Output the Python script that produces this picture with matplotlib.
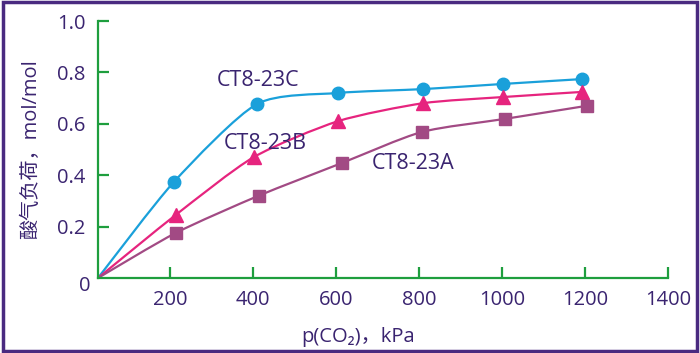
import numpy as np
import matplotlib
matplotlib.use("Agg")
import matplotlib.pyplot as plt
from matplotlib.path import Path
from matplotlib.patches import PathPatch, Rectangle

# Data
pressure_C = [27, 210, 410, 605, 810, 1002, 1193]
load_C = [0.0, 0.374, 0.677, 0.72, 0.735, 0.755, 0.774]
pressure_B = [27, 214, 402, 605, 810, 1002, 1193]
load_B = [0.0, 0.245, 0.47, 0.61, 0.68, 0.704, 0.724]
pressure_A = [27, 214, 414, 614, 807, 1007, 1205]
load_A = [0.0, 0.175, 0.32, 0.447, 0.568, 0.619, 0.67]
series_names = ["CT8-23C", "CT8-23B", "CT8-23A"]
xticks = [200, 400, 600, 800, 1000, 1200, 1400]
yticks = [0.2, 0.4, 0.6, 0.8, 1.0]

TXT = "#3a2470"
GREEN = "#1e9e3e"
FONT = ["Open Sans", "Noto Sans CJK SC", "DejaVu Sans"]
plt.rcParams["font.family"] = FONT

fig = plt.figure(figsize=(7.0, 3.53), dpi=100)
ax = fig.add_axes([0.14, 0.2125, 0.814, 0.728])
ax.set_xlim(27, 1400)
ax.set_ylim(0, 1.0)


def smooth_patch(xs, ys, color):
    pts = list(zip(xs, ys))
    verts = [pts[0]]
    codes = [Path.MOVETO]
    n = len(pts)
    t = 0.12
    for i in range(n - 1):
        p0 = pts[i - 1] if i > 0 else pts[i]
        p1 = pts[i]
        p2 = pts[i + 1]
        p3 = pts[i + 2] if i + 2 < n else pts[i + 1]
        c1 = (p1[0] + (p2[0] - p0[0]) * t, p1[1] + (p2[1] - p0[1]) * t)
        c2 = (p2[0] - (p3[0] - p1[0]) * t, p2[1] - (p3[1] - p1[1]) * t)
        verts += [c1, c2, p2]
        codes += [Path.CURVE4] * 3
    patch = PathPatch(Path(verts, codes), facecolor="none", edgecolor=color,
                      lw=1.6, clip_on=False, zorder=2)
    ax.add_patch(patch)


series = [
    (pressure_C, load_C, "#1aa0da", "o", 9),
    (pressure_B, load_B, "#e6247e", "^", 9.5),
    (pressure_A, load_A, "#a24a84", "s", 9),
]
for xs, ys, col, mk, ms in series:
    smooth_patch(xs, ys, col)
    ax.plot(xs[1:], ys[1:], linestyle="none", marker=mk, ms=ms, color=col,
            clip_on=False, zorder=3)

ax.text(412, 0.77, series_names[0], color=TXT, fontsize=15.5, ha="center", va="center")
ax.text(429, 0.525, series_names[1], color=TXT, fontsize=15.5, ha="center", va="center")
ax.text(786, 0.447, series_names[2], color=TXT, fontsize=15.5, ha="center", va="center")

for s in ["top", "right"]:
    ax.spines[s].set_visible(False)
for s in ["left", "bottom"]:
    ax.spines[s].set_color(GREEN)
    ax.spines[s].set_linewidth(1.6)

ax.set_xticks(xticks)
ax.set_xticklabels([str(v) for v in xticks])
ax.set_yticks(yticks)
ax.set_yticklabels([f"{v:.1f}" for v in yticks])
ax.tick_params(direction="in", length=8, width=1.6, color=GREEN,
               labelcolor=TXT, labelsize=14.5)
ax.tick_params(axis="y", pad=9)
ax.tick_params(axis="x", pad=9)
ax.text(-0.023, -0.031, "0", transform=ax.transAxes, color=TXT, fontsize=14.5,
        ha="center", va="center")

ax.set_xlabel("p(CO\u2082)，kPa", color=TXT, fontsize=14.5, labelpad=6)
ax.xaxis.set_label_coords(0.456, -0.19)
ax.set_ylabel("酸气负荷，mol/mol", color=TXT, fontsize=14.5, labelpad=10)
ax.yaxis.set_label_coords(-0.1, 0.5)

fig.patches.append(Rectangle((0.004, 0.005), 0.992, 0.99, transform=fig.transFigure,
                             fill=False, edgecolor="#4a2a80", lw=2.5))

fig.savefig("out.png", dpi=100)
